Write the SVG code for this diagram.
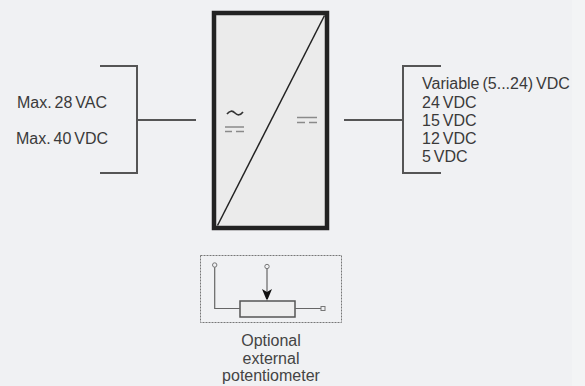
<svg xmlns="http://www.w3.org/2000/svg" width="585" height="386" viewBox="0 0 585 386">
<style>
.t{font-family:"Liberation Sans",Arial,sans-serif;font-size:16px;fill:#3a3a3a;word-spacing:-1.500px}
.c{text-anchor:middle;fill:#444}
.w{fill:none;stroke:#555;stroke-width:2}
.s{fill:none;stroke:#666;stroke-width:1.2}
.g{fill:none;stroke:#8a8a8a;stroke-width:1.5}
</style>
<defs><marker id="a" markerUnits="userSpaceOnUse" markerWidth="10" markerHeight="13" refX="12" refY="5" orient="auto"><path d="M0 0L12 5L0 10L3 5Z" fill="#111"/></marker></defs>
<rect width="585" height="386" fill="#f0f1f3"/>
<rect x="572" width="13" height="386" fill="#f3f4f5"/>
<g id="connectors">
<path class="w" d="M100 66H137V173H100M137 120H196"/>
<path class="w" d="M441 66H403V173H441M403 120H344"/>
</g>
<g id="converter">
<rect x="214" y="13" width="113" height="215" fill="#ebebeb" stroke="#222" stroke-width="4.500"/>
<path d="M217.500 225.500L324.500 15.500" fill="none" stroke="#222" stroke-width="1.500"/>
<path d="M227 114Q231 109 235 113T243 112" fill="none" stroke="#333" stroke-width="1.700"/>
<path class="g" d="M225 127H244M225 131.500H232M236 131.500H244"/>
<path class="g" d="M297 117.500H317M297 122.500H305M309 122.500H317"/>
</g>
<g id="input-labels">
<text class="t" x="17" y="108">Max. 28 VAC</text>
<text class="t" x="16" y="144">Max. 40 VDC</text>
</g>
<g id="output-labels">
<text class="t" x="422" y="89">Variable (5...24) VDC</text>
<text class="t" x="422" y="107.500">24 VDC</text>
<text class="t" x="422" y="126">15 VDC</text>
<text class="t" x="422" y="144">12 VDC</text>
<text class="t" x="422" y="162">5 VDC</text>
</g>
<g id="potentiometer">
<rect x="200.500" y="255.500" width="141" height="67" fill="none" stroke="#777" stroke-dasharray="2 1"/>
<rect x="240" y="301" width="55" height="16" fill="#eee" stroke="#555" stroke-width="1.500"/>
<path class="s" d="M214.700 267V308.500H240M295 308.500H321"/>
<path class="s" d="M267 269V301" marker-end="url(#a)"/>
<circle cx="214.700" cy="265" r="2.200" fill="#f0f1f3" stroke="#777"/>
<circle cx="267" cy="266.500" r="2.200" fill="#f0f1f3" stroke="#777"/>
<rect x="321" y="306.500" width="4" height="4" fill="#f0f1f3" stroke="#777"/>
<text class="t c" x="271" y="346">Optional</text>
<text class="t c" x="271" y="364">external</text>
<text class="t c" x="271" y="381">potentiometer</text>
</g>
</svg>
